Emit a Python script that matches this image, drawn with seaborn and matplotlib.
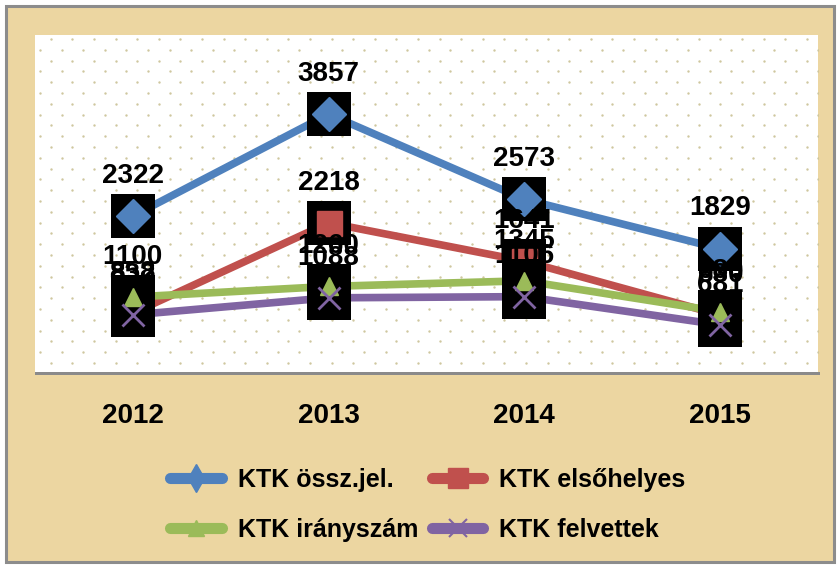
import numpy as np
import pandas as pd
import matplotlib
matplotlib.use('Agg')
import matplotlib.pyplot as plt
import seaborn as sns
from matplotlib.lines import Line2D
from matplotlib.patches import Rectangle

# Chart data
years = ['2012', '2013', '2014', '2015']
ossz_jel = [2322, 3857, 2573, 1829]
elsohelyes = [858, 2218, 1641, 830]
iranyszam = [1100, 1260, 1345, 880]
felvettek = [832, 1088, 1106, 681]

series = ['KTK össz.jel.', 'KTK elsőhelyes', 'KTK irányszám', 'KTK felvettek']
colors = ['#4F81BD', '#C0504D', '#9BBB59', '#8064A2']

df = pd.DataFrame({
    'year': years * 4,
    'value': ossz_jel + elsohelyes + iranyszam + felvettek,
    'series': np.repeat(series, len(years)),
})
df['pos'] = df['year'].map({y: i for i, y in enumerate(years)})

sns.set_style('white')
plt.rcParams['font.family'] = ['Liberation Sans', 'DejaVu Sans']

W, H = 840, 566
fig = plt.figure(figsize=(W / 100, H / 100), dpi=100, facecolor='white')

# parchment background with grey frame
fig.patches.append(Rectangle((6 / W, 1 - 562 / H), 828 / W, 556 / H, transform=fig.transFigure,
                             facecolor='#ECD6A1', edgecolor='#8C8C8C', linewidth=2.2, zorder=-2))

left, right, top, bottom = 35, 818, 35, 372
ax = fig.add_axes([left / W, 1 - bottom / H, (right - left) / W, (bottom - top) / H])
ax.set_zorder(2)
ax.set_facecolor('white')

# shadow under plot area
fig.patches.append(Rectangle((left / W, 1 - (bottom + 3) / H), (right - left + 2) / W, 3 / H,
                             transform=fig.transFigure, facecolor='#8A8A8A', edgecolor='none', zorder=-1))

# dotted fill pattern of the plot area
pw, ph = right - left, bottom - top
rows = np.arange(4, ph, 10.8)
pts = []
for i, yy in enumerate(rows):
    off = 10.8 if i % 2 == 0 else 0
    for xx in np.arange(off + 5, pw, 21.6):
        pts.append((xx / pw, 1 - yy / ph))
pts = np.array(pts)
ax.scatter(pts[:, 0], pts[:, 1], s=3, color='#CFC79E', transform=ax.transAxes, zorder=0.5, linewidths=0)

# lines
sns.lineplot(data=df, x='pos', y='value', hue='series', hue_order=series, palette=colors,
             linewidth=5.5, legend=False, sort=False, ax=ax, zorder=2)

marker_style = {
    'KTK össz.jel.': dict(marker='D', markersize=17),
    'KTK elsőhelyes': dict(marker='s', markersize=18),
    'KTK irányszám': dict(marker='^', markersize=13),
    'KTK felvettek': dict(marker='x', markersize=16, markeredgewidth=2),
}
marker_z = [3.5, 4.5, 9, 10]
# black box behind every point, then the marker
for k, (name, col) in enumerate(zip(series, colors)):
    sub = df[df['series'] == name]
    ax.scatter(sub['pos'], sub['value'], marker='s', s=31 ** 2, color='black',
               zorder=3 + k, linewidths=0)
    ax.plot(sub['pos'], sub['value'], linestyle='', color=col, zorder=marker_z[k], **marker_style[name])
    for x, v in zip(sub['pos'], sub['value']):
        ax.annotate(f'{v}', (x, v), xytext=(0, 29), textcoords='offset points', ha='center', va='center',
                    fontsize=20, fontweight='bold', color='black', zorder=20)

ax.set_xlim(-0.5, 3.5)
ax.set_ylim(-30, 5050)
ax.set_xticks(range(len(years)))
ax.set_xticklabels(years, fontsize=20, fontweight='bold', color='black')
ax.tick_params(axis='x', length=0, pad=22)
ax.set_yticks([])
ax.set_xlabel('')
ax.set_ylabel('')
for s in ax.spines.values():
    s.set_visible(False)

# legend (row-wise order)
legend_marker = {
    'KTK össz.jel.': dict(marker='d', markersize=14),
    'KTK elsőhelyes': dict(marker='s', markersize=14),
    'KTK irányszám': dict(marker='^', markersize=12),
    'KTK felvettek': dict(marker='x', markersize=13, markeredgewidth=1.5),
}
handles = []
for name, col in zip(series, colors):
    handles.append(Line2D([0], [0], color=col, linewidth=8, solid_capstyle='round', **legend_marker[name]))
order = [0, 2, 1, 3]
leg = fig.legend([handles[i] for i in order], [series[i] for i in order], loc='center',
                 bbox_to_anchor=(428 / W, 1 - 505 / H), ncol=2, frameon=False,
                 prop={'size': 18, 'weight': 'bold'}, labelcolor='black', handlelength=2.05,
                 handletextpad=0.64, columnspacing=0.56, labelspacing=1.05)

fig.savefig('out.png', dpi=100, facecolor=fig.get_facecolor())
